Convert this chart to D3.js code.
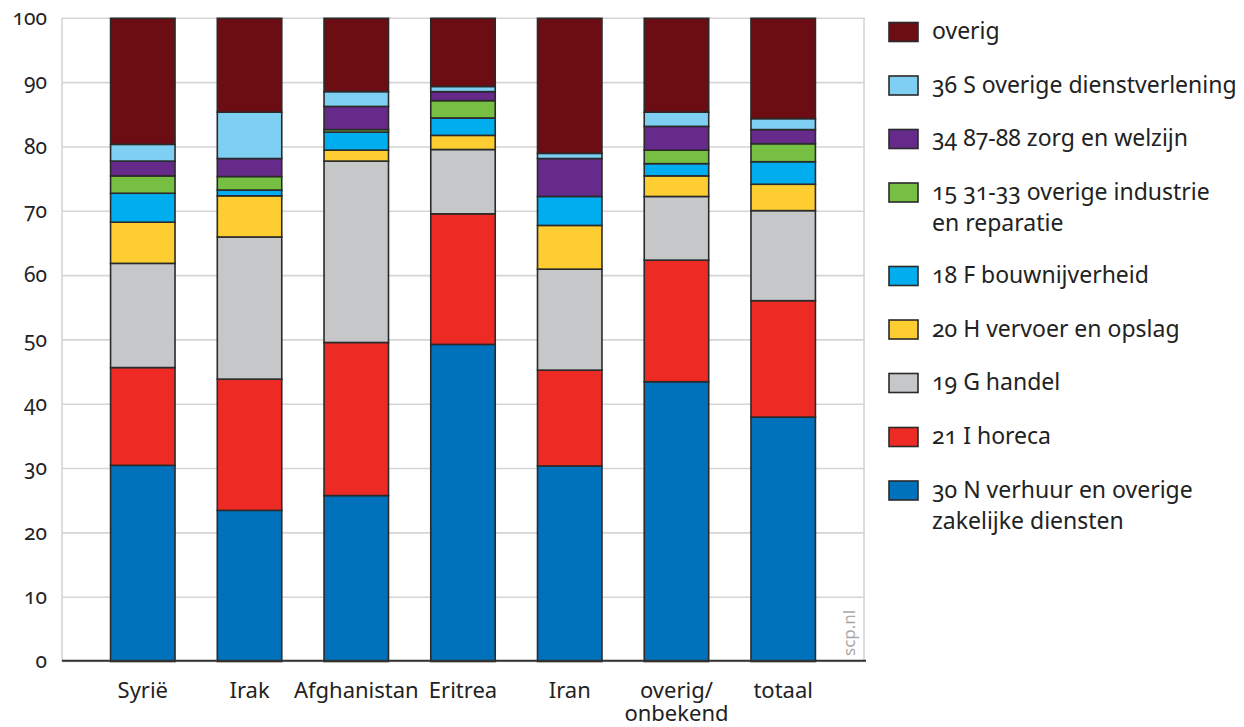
<!DOCTYPE html>
<html>
<head>
<meta charset="utf-8">
<script src="https://cdn.jsdelivr.net/npm/d3@7"></script>
<style>
  html, body { margin: 0; padding: 0; background: #fff; }
  svg { display: block; font-family: "Noto Sans", "Open Sans", sans-serif; }
  .num { font-variant-numeric: oldstyle-nums; font-feature-settings: "onum" 1; }
</style>
</head>
<body>
<svg id="chart" width="1244" height="727"></svg>
<script>
// ---- data ----
const categories = ["Syrië", "Irak", "Afghanistan", "Eritrea", "Iran", "overig/onbekend", "totaal"];
const yTicks = [0, 10, 20, 30, 40, 50, 60, 70, 80, 90, 100];

// series, stacked bottom to top (percentages per category)
const verhuurZakelijk   = [30.5, 23.5, 25.8, 49.3, 30.4, 43.5, 38.0];
const horeca            = [15.2, 20.4, 23.8, 20.3, 14.9, 18.9, 18.1];
const handel            = [16.2, 22.1, 28.2, 10.0, 15.7,  9.9, 14.0];
const vervoerOpslag     = [ 6.4,  6.4,  1.7,  2.2,  6.8,  3.2,  4.1];
const bouwnijverheid    = [ 4.5,  0.9,  2.8,  2.7,  4.5,  1.9,  3.5];
const overigeIndustrie  = [ 2.7,  2.1,  0.4,  2.7,  0.0,  2.1,  2.8];
const zorgWelzijn       = [ 2.3,  2.8,  3.6,  1.4,  5.9,  3.7,  2.2];
const overigeDienst     = [ 2.6,  7.2,  2.3,  0.8,  0.8,  2.2,  1.7];
const overig            = [19.6, 14.6, 11.4, 10.6, 21.0, 14.6, 15.6];

const seriesNames = [
  "30 N verhuur en overige zakelijke diensten",
  "21 I horeca",
  "19 G handel",
  "20 H vervoer en opslag",
  "18 F bouwnijverheid",
  "15 31-33 overige industrie en reparatie",
  "34 87-88 zorg en welzijn",
  "36 S overige dienstverlening",
  "overig"
];
const seriesValues = [verhuurZakelijk, horeca, handel, vervoerOpslag, bouwnijverheid,
                      overigeIndustrie, zorgWelzijn, overigeDienst, overig];
const seriesColors = ["#0071bb", "#ee2a24", "#c6c7c9", "#fecd31", "#00aeef",
                      "#76bf43", "#662b8a", "#7fcff2", "#6b0d13"];
// legend line breaks
const legendLines = [
  ["30 N verhuur en overige", "zakelijke diensten"],
  ["21 I horeca"],
  ["19 G handel"],
  ["20 H vervoer en opslag"],
  ["18 F bouwnijverheid"],
  ["15 31-33 overige industrie", "en reparatie"],
  ["34 87-88 zorg en welzijn"],
  ["36 S overige dienstverlening"],
  ["overig"]
];

(function () {
// ---- build table ----
const keys = seriesNames.map((d, i) => "s" + i);
const table = categories.map((c, ci) => {
  const row = { category: c };
  keys.forEach((k, si) => { row[k] = seriesValues[si][ci]; });
  return row;
});
const stacked = d3.stack().keys(keys)(table);

// ---- layout ----
const svg = d3.select("#chart");
const pLeft = 62, pRight = 864, pTop = 18.3, pBottom = 661.5;

const x = d3.scaleBand().domain(categories).range([pLeft, pRight])
  .paddingInner(0.396).paddingOuter(0.455);
const y = d3.scaleLinear().domain([0, 100]).range([pBottom, pTop]);

// gridlines
svg.append("g")
  .selectAll("line").data(yTicks).join("line")
  .attr("x1", pLeft).attr("x2", pRight + 1)
  .attr("y1", d => y(d)).attr("y2", d => y(d))
  .attr("stroke", "#d5d5d5").attr("stroke-width", 1.6);
// side borders
svg.append("g").selectAll("line").data([pLeft, pRight]).join("line")
  .attr("x1", d => d).attr("x2", d => d)
  .attr("y1", pTop).attr("y2", pBottom)
  .attr("stroke", "#d5d5d5").attr("stroke-width", 1.6);

// y axis labels
const yAxis = svg.append("g")
  .attr("transform", `translate(${pLeft},0)`)
  .call(d3.axisLeft(y).tickValues(yTicks).tickSize(0).tickPadding(15));
yAxis.select(".domain").remove();
yAxis.selectAll("text")
  .attr("class", "num")
  .attr("font-family", "Noto Sans, Open Sans, sans-serif")
  .attr("font-size", 21)
  .attr("fill", "#222")
  .attr("dy", "0.3em");

// bars
svg.append("g")
  .selectAll("g").data(stacked).join("g")
  .attr("fill", (d, i) => seriesColors[i])
  .selectAll("rect").data(d => d.filter(p => p[1] - p[0] > 0)).join("rect")
  .attr("x", d => x(d.data.category))
  .attr("width", x.bandwidth())
  .attr("y", d => y(d[1]))
  .attr("height", d => y(d[0]) - y(d[1]))
  .attr("stroke", "#2a2a2a")
  .attr("stroke-width", 1.6);

// baseline / x axis
const xAxis = svg.append("g")
  .attr("transform", `translate(0,${pBottom - 0.8})`)
  .call(d3.axisBottom(x).tickSize(0).tickPadding(0));
xAxis.select(".domain")
  .attr("d", `M${pLeft},0H${pRight + 2}`)
  .attr("stroke", "#333").attr("stroke-width", 2);
xAxis.selectAll("text").each(function(d) {
  const t = d3.select(this);
  const cut = d.indexOf("/");
  const parts = cut >= 0 ? [d.slice(0, cut + 1), d.slice(cut + 1)] : [d];
  t.text(null).attr("dy", null).attr("y", null)
    .attr("font-family", "Noto Sans, Open Sans, sans-serif")
    .attr("font-size", 22).attr("fill", "#222");
  parts.forEach((p, i) => {
    t.append("tspan").attr("x", 0).attr("y", 37 + i * 23.5).text(p);
  });
});

// watermark
svg.append("text")
  .attr("transform", `translate(855,656) rotate(-90)`)
  .attr("font-size", 17)
  .attr("fill", "#a8a8a8")
  .text("scp.nl");

// legend (reverse order: top of stack first)
const legendY = [32, 85.5, 139, 192.5, 276, 329.5, 383, 437, 490.5];
const order = d3.range(seriesNames.length).reverse();
const lg = svg.append("g");
order.forEach((si, li) => {
  const cy = legendY[li];
  lg.append("rect")
    .attr("x", 889).attr("y", cy - 9.5)
    .attr("width", 29).attr("height", 19)
    .attr("fill", seriesColors[si])
    .attr("stroke", "#2a2a2a").attr("stroke-width", 1.6);
  const t = lg.append("text")
    .attr("class", "num")
    .attr("font-size", 23).attr("fill", "#222");
  legendLines[si].forEach((line, k) => {
    t.append("tspan").attr("x", 932).attr("y", cy + 7 + k * 31).text(line);
  });
});
})();
</script>
</body>
</html>
